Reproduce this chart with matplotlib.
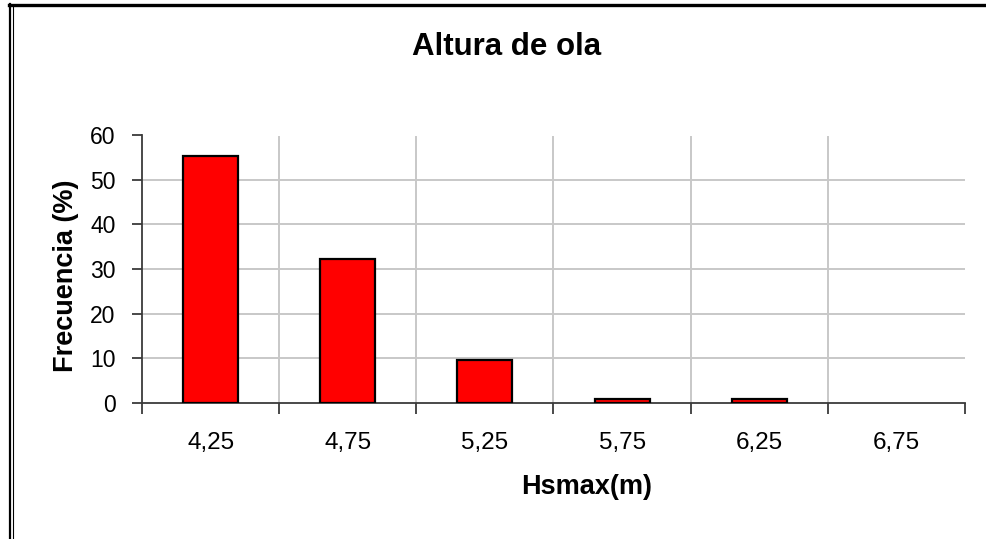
import matplotlib
matplotlib.use("Agg")
import matplotlib.pyplot as plt
from matplotlib.lines import Line2D
import numpy as np

categories = ["4,25", "4,75", "5,25", "5,75", "6,25", "6,75"]
frecuencia = [55.3, 32.3, 9.6, 1.0, 1.0, 0.0]
yticks = [0, 10, 20, 30, 40, 50, 60]

plt.rcParams['font.family'] = ['Liberation Sans', 'DejaVu Sans']

W, H = 987, 539
fig = plt.figure(figsize=(W / 100, H / 100), dpi=100)
fig.patch.set_facecolor('white')

L, R, T, B = 142, 965, 135, 403
ax = fig.add_axes([L / W, 1 - B / H, (R - L) / W, (B - T) / H])

x = np.arange(len(categories))
ax.set_xlim(-0.5, len(categories) - 0.5)
ax.set_ylim(0, 60)

# gridlines
for yv in yticks[1:-1]:
    ax.axhline(yv, color='#c8c8c8', lw=1.4, zorder=0)
for xb in np.arange(0.5, len(categories) - 0.5, 1):
    ax.axvline(xb, ymax=0.992, color='#c8c8c8', lw=1.4, zorder=0)

vals = np.array(frecuencia)
mask = vals > 0
ax.bar(x[mask], vals[mask], width=0.40, color='#ff0000', edgecolor='black', linewidth=1.6, zorder=3)

for s in ['top', 'right']:
    ax.spines[s].set_visible(False)
for s in ['left', 'bottom']:
    ax.spines[s].set_color('#3a3a3a')
    ax.spines[s].set_linewidth(1.3)

ax.set_yticks(yticks)
ax.set_yticklabels([str(v) for v in yticks], fontsize=16.5)
ax.tick_params(axis='y', direction='out', length=7, width=1.3, color='#3a3a3a', pad=12)

ax.set_xticks(np.arange(-0.5, len(categories) + 0.5, 1))
ax.set_xticklabels([])
ax.tick_params(axis='x', direction='out', length=8, width=1.3, color='#3a3a3a')
for xi, lab in zip(x, categories):
    ax.text(xi, -(443 - B) / (B - T), lab, transform=ax.get_xaxis_transform(),
            ha='center', va='center', fontsize=17.5)

fig.text(507 / W, 1 - 47 / H, "Altura de ola", ha='center', va='center', fontsize=22.5, fontweight='bold')
fig.text(587 / W, 1 - 487 / H, "Hsmax(m)", ha='center', va='center', fontsize=19.5, fontweight='bold')
fig.text(66 / W, 1 - 276 / H, "Frecuencia (%)", ha='center', va='center', fontsize=19.5, fontweight='bold', rotation=90)

# outer border (top and left, double on left)
fig.add_artist(Line2D([9 / W, 1], [1 - 5 / H, 1 - 5 / H], transform=fig.transFigure, color='black', lw=2.4))
fig.add_artist(Line2D([10.3 / W, 10.3 / W], [1 - 4 / H, 0], transform=fig.transFigure, color='black', lw=1.6))
fig.add_artist(Line2D([13 / W, 13 / W], [1 - 7 / H, 0], transform=fig.transFigure, color='black', lw=0.8))

fig.savefig("out.png", dpi=100)
